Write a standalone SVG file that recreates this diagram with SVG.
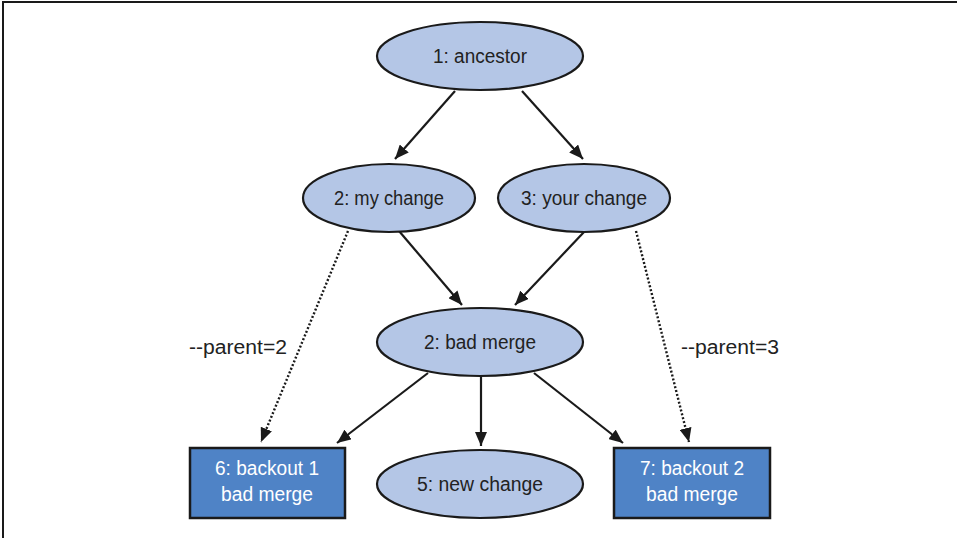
<svg xmlns="http://www.w3.org/2000/svg" width="957" height="538" viewBox="0 0 957 538">
<defs>
<marker id="ah" viewBox="0 0 14 12" refX="14" refY="6" markerWidth="14" markerHeight="12" markerUnits="userSpaceOnUse" orient="auto">
<path d="M0,0 L14,6 L0,12 Z" fill="#1a1a1a"/>
</marker>
</defs>
<style>
.ell{fill:#b4c6e6;stroke:#1a1a1a;stroke-width:2.2}
.box{fill:#4f83c6;stroke:#1a1a1a;stroke-width:2.5}
.t{font-family:"Liberation Sans","DejaVu Sans",sans-serif;font-size:20px;fill:#222;text-anchor:middle;dominant-baseline:central}
.w{fill:#ffffff}
.c{stroke:#1a1a1a;stroke-width:2.2;fill:none;marker-end:url(#ah)}
.d{stroke-dasharray:2,2;stroke-width:2.4}
</style>
<rect x="0" y="0" width="957" height="538" fill="#ffffff"/>
<path d="M3,538 L3,2 L957,2" fill="none" stroke="#1a1a1a" stroke-width="2"/>
<g id="connectors">
<line class="c" x1="455" y1="91" x2="395" y2="159"/>
<line class="c" x1="522" y1="91" x2="583" y2="159"/>
<line class="c" x1="399" y1="231" x2="462" y2="305"/>
<line class="c" x1="584" y1="232" x2="515" y2="305"/>
<line class="c" x1="428" y1="373" x2="337" y2="443"/>
<line class="c" x1="481" y1="377" x2="481" y2="446"/>
<line class="c" x1="534" y1="373" x2="623" y2="443"/>
<line class="c d" x1="348" y1="231" x2="261" y2="442"/>
<line class="c d" x1="636" y1="231" x2="689" y2="442"/>
<text class="t" x="238" y="347" textLength="98" lengthAdjust="spacingAndGlyphs">--parent=2</text>
<text class="t" x="730" y="347" textLength="98" lengthAdjust="spacingAndGlyphs">--parent=3</text>
</g>
<g id="n1"><ellipse class="ell" cx="480" cy="56" rx="103" ry="34"/><text class="t" x="480" y="56" textLength="94" lengthAdjust="spacingAndGlyphs">1: ancestor</text></g>
<g id="n2"><ellipse class="ell" cx="389" cy="198" rx="86" ry="34"/><text class="t" x="389" y="198" textLength="110" lengthAdjust="spacingAndGlyphs">2: my change</text></g>
<g id="n3"><ellipse class="ell" cx="584" cy="198" rx="86" ry="34"/><text class="t" x="584" y="198" textLength="126" lengthAdjust="spacingAndGlyphs">3: your change</text></g>
<g id="n4"><ellipse class="ell" cx="480" cy="342" rx="103" ry="34"/><text class="t" x="480" y="342" textLength="112" lengthAdjust="spacingAndGlyphs">2: bad merge</text></g>
<g id="n5"><ellipse class="ell" cx="480" cy="484" rx="103" ry="34"/><text class="t" x="480" y="484" textLength="126" lengthAdjust="spacingAndGlyphs">5: new change</text></g>
<g id="n6"><rect class="box" x="190" y="448" width="155" height="70"/><text class="t w" x="267" y="468" textLength="104" lengthAdjust="spacingAndGlyphs">6: backout 1</text><text class="t w" x="267" y="494" textLength="92" lengthAdjust="spacingAndGlyphs">bad merge</text></g>
<g id="n7"><rect class="box" x="614" y="448" width="156" height="70"/><text class="t w" x="692" y="468" textLength="104" lengthAdjust="spacingAndGlyphs">7: backout 2</text><text class="t w" x="692" y="494" textLength="92" lengthAdjust="spacingAndGlyphs">bad merge</text></g>
</svg>
